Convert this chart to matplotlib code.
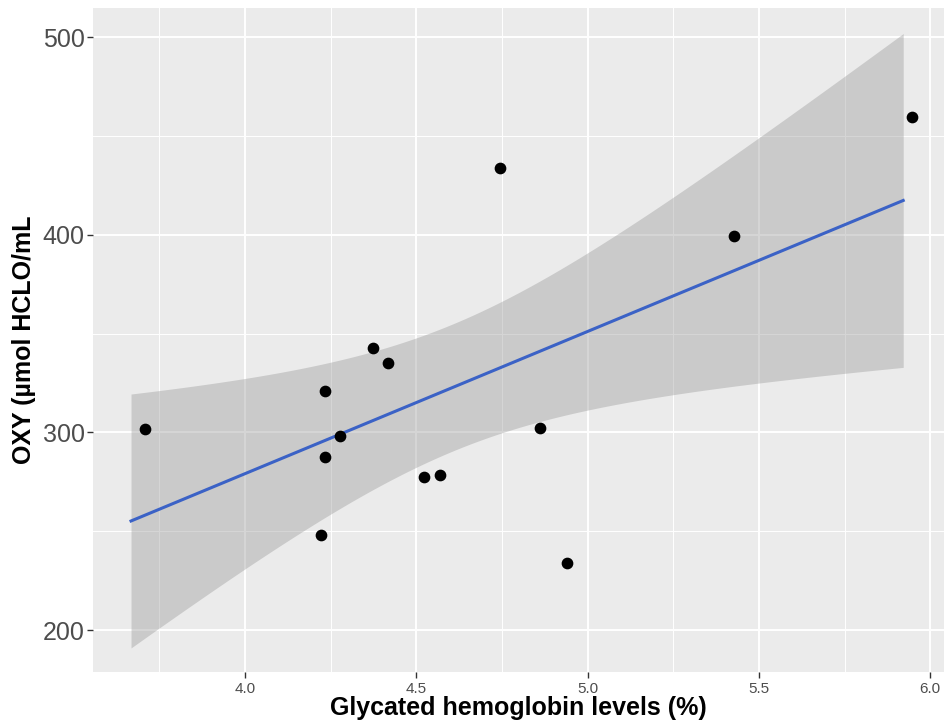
import numpy as np
import matplotlib
matplotlib.use("Agg")
import matplotlib.pyplot as plt
from matplotlib.ticker import MultipleLocator

# data
hba1c = [3.708, 4.222, 4.233, 4.233, 4.277, 4.373, 4.417,
         4.522, 4.569, 4.746, 4.860, 4.939, 5.426, 5.948]
oxy = [301.5, 247.9, 320.7, 287.4, 298.0, 342.5, 334.9,
       277.2, 278.2, 433.9, 302.0, 233.7, 399.5, 459.5]

# extent of the smoother as drawn in the figure
smooth_start, smooth_end = 3.668, 5.921

x_ticks = [4.0, 4.5, 5.0, 5.5, 6.0]
y_ticks = [200, 300, 400, 500]

plt.rcParams['font.family'] = ['Liberation Sans', 'DejaVu Sans']

# linear fit with 95% confidence band (like geom_smooth(method="lm"))
x = np.array(hba1c)
y = np.array(oxy)
n = len(x)
slope, intercept = np.polyfit(x, y, 1)
resid = y - (slope * x + intercept)
s = np.sqrt(np.sum(resid ** 2) / (n - 2))
sxx = np.sum((x - x.mean()) ** 2)
t_crit = 2.179  # t(0.975, df=12)

xs = np.linspace(smooth_start, smooth_end, 200)
fit = slope * xs + intercept
se = s * np.sqrt(1 / n + (xs - x.mean()) ** 2 / sxx)
lower = fit - t_crit * se
upper = fit + t_crit * se

fig = plt.figure(figsize=(9.44, 7.26), dpi=100)
ax = fig.add_axes([0.0985, 0.0744, 0.9015, 0.9146])
ax.set_facecolor('#EBEBEB')

ax.xaxis.set_major_locator(MultipleLocator(0.5))
ax.xaxis.set_minor_locator(MultipleLocator(0.25))
ax.yaxis.set_major_locator(MultipleLocator(100))
ax.yaxis.set_minor_locator(MultipleLocator(50))
ax.grid(which='major', color='white', linewidth=1.4)
ax.grid(which='minor', color='white', linewidth=0.7)
ax.set_axisbelow(True)

ax.fill_between(xs, lower, upper, color='#999999', alpha=0.4, linewidth=0)
ax.plot(xs, fit, color='#3B62C6', linewidth=2.2)
ax.scatter(hba1c, oxy, s=55, color='black', zorder=3)

ax.set_xlim(3.557, 6.04)
ax.set_ylim(178.8, 514.7)
ax.set_xticks(x_ticks)
ax.set_xticklabels([f"{v:.1f}" for v in x_ticks])
ax.set_yticks(y_ticks)

for sp in ax.spines.values():
    sp.set_visible(False)

ax.tick_params(axis='both', which='major', length=4, width=1, color='#333333')
ax.tick_params(axis='both', which='minor', length=0)
ax.tick_params(axis='x', labelsize=11, labelcolor='#4D4D4D', pad=3)
ax.tick_params(axis='y', labelsize=18, labelcolor='#4D4D4D', pad=2)

ax.set_xlabel('Glycated hemoglobin levels (%)', fontsize=18, fontweight='bold', labelpad=0)
ax.set_ylabel('OXY (µmol HCLO/mL', fontsize=18, fontweight='bold', labelpad=5)

fig.savefig('out.png', dpi=100)
